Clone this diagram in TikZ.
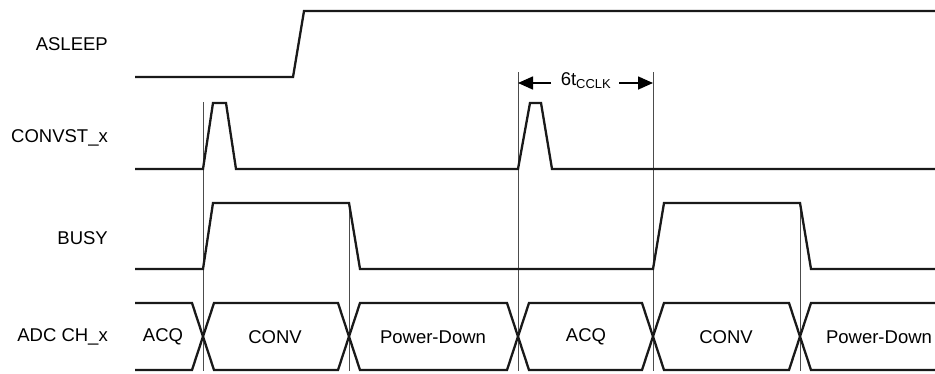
\documentclass[tikz,border=0pt]{standalone}
\usepackage{fontspec}
\setmainfont{Liberation Sans}
\usetikzlibrary{arrows.meta}
\begin{document}
\begin{tikzpicture}[x=1pt,y=-1pt,
  sig/.style={line width=2.3pt,line join=miter,black!90},
  guide/.style={line width=0.8pt,black!70},
  lbl/.style={anchor=east,font=\fontsize{18.5}{21}\selectfont,inner sep=0pt},
  seg/.style={font=\fontsize{18.5}{21}\selectfont,inner sep=0pt},
  dim/.style={line width=1.6pt,-{Triangle[length=15pt,width=13pt]}}]
\useasboundingbox (0,0) rectangle (935,373);
% labels
\node[lbl] (lasleep) at (108,44) {ASLEEP};
\node[lbl] (lconv) at (108,138) {CONVST\_x};
\node[lbl] (lbusy) at (108,238) {BUSY};
\node[lbl] (ladc) at (108,337) {ADC CH\_x};
% guide lines
\draw[guide] (203,102) -- (203,371);
\draw[guide] (349,203) -- (349,371);
\draw[guide] (518,72) -- (518,371);
\draw[guide] (653,72) -- (653,371);
\draw[guide] (800,203) -- (800,371);
% ASLEEP
\draw[sig] (135,77) -- (293,77) -- (304,11) -- (935,11);
% CONVST_x
\draw[sig] (135,169) -- (203,169) -- (213,103) -- (226,103) -- (236,169)
  -- (518,169) -- (530,103) -- (541,103) -- (552,169) -- (935,169);
% BUSY
\draw[sig] (135,269) -- (203,269) -- (213,203) -- (349,203) -- (360,269)
  -- (653,269) -- (664,203) -- (800,203) -- (811,269) -- (935,269);
% ADC CH_x bus
\draw[sig] (135,303) -- (192,303) -- (214,370) -- (338,370) -- (360,303)
  -- (507,303) -- (529,370) -- (642,370) -- (664,303) -- (789,303) -- (811,370) -- (935,370);
\draw[sig] (135,370) -- (192,370) -- (214,303) -- (338,303) -- (360,370)
  -- (507,370) -- (529,303) -- (642,303) -- (664,370) -- (789,370) -- (811,303) -- (935,303);
\node[seg] (s1) at (163,337) {ACQ};
\node[seg] (s2) at (275,337) {CONV};
\node[seg] (s3) at (433,337) {Power-Down};
\node[seg] (s4) at (586,337) {ACQ};
\node[seg] (s5) at (726,337) {CONV};
\node[seg] (s6) at (879,337) {Power-Down};
% dimension
\coordinate (dl) at (518,83);
\coordinate (dr) at (653,83);
\node[seg] (dlab) at (586,81) {6t\textsubscript{CCLK}};
\draw[dim] (551,83) -- (dl);
\draw[dim] (619,83) -- (dr);
\end{tikzpicture}
\end{document}
